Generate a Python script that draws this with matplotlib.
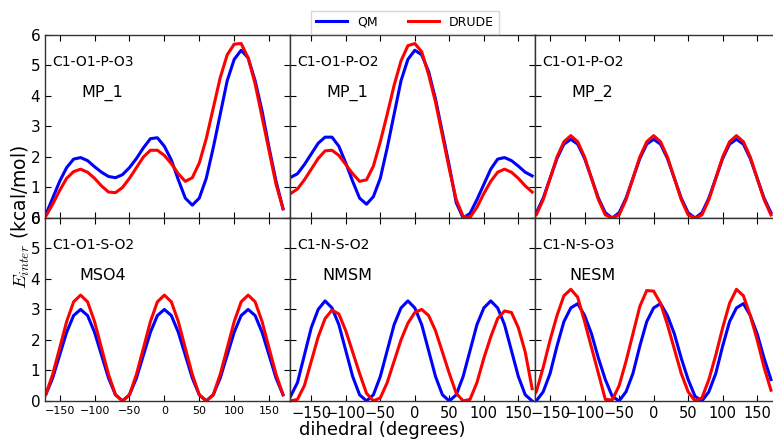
import matplotlib
matplotlib.use("Agg")
from matplotlib import pyplot as plt

plt.rcParams['mathtext.fontset'] = 'cm'

# dihedral angles (deg), 10 degree steps
angles = list(range(-180, 180, 10))

# C1-O1-P-O3, MP_1
qm_mp1_o3 = [0.0, 0.1, 0.65, 1.2, 1.65, 1.93, 1.98, 1.88, 1.68, 1.5, 1.36, 1.32,
             1.42, 1.65, 1.95, 2.3, 2.6, 2.63, 2.35, 1.9, 1.25, 0.65, 0.42, 0.65,
             1.3, 2.3, 3.4, 4.5, 5.2, 5.5, 5.25, 4.5, 3.5, 2.3, 1.2, 0.3]
drude_mp1_o3 = [0.0, 0.05, 0.45, 0.9, 1.3, 1.52, 1.6, 1.5, 1.3, 1.05, 0.85, 0.83,
                1.0, 1.3, 1.65, 2.0, 2.22, 2.22, 2.05, 1.78, 1.45, 1.2, 1.32, 1.8,
                2.6, 3.6, 4.6, 5.35, 5.7, 5.72, 5.25, 4.4, 3.3, 2.2, 1.1, 0.3]

# C1-O1-P-O2, MP_1
qm_mp1_o2 = [1.33, 1.45, 1.75, 2.1, 2.45, 2.65, 2.65, 2.35, 1.8, 1.2, 0.65, 0.45,
             0.7, 1.3, 2.3, 3.4, 4.5, 5.2, 5.5, 5.35, 4.8, 3.9, 2.8, 1.7,
             0.5, 0.0, 0.15, 0.6, 1.1, 1.6, 1.93, 1.98, 1.88, 1.7, 1.5, 1.38]
drude_mp1_o2 = [0.8, 0.95, 1.25, 1.6, 1.95, 2.2, 2.22, 2.05, 1.75, 1.45, 1.2, 1.25,
                1.7, 2.5, 3.4, 4.35, 5.15, 5.65, 5.72, 5.45, 4.7, 3.8, 2.7, 1.6,
                0.6, 0.05, 0.02, 0.35, 0.8, 1.2, 1.5, 1.6, 1.5, 1.3, 1.05, 0.85]

# C1-O1-P-O2, MP_2
qm_mp2 = [0.0, 0.17, 0.65, 1.3, 1.95, 2.42, 2.58, 2.42, 1.95, 1.3, 0.65, 0.17,
          0.0, 0.17, 0.65, 1.3, 1.95, 2.42, 2.58, 2.42, 1.95, 1.3, 0.65, 0.17,
          0.0, 0.17, 0.65, 1.3, 1.95, 2.42, 2.58, 2.42, 1.95, 1.3, 0.65, 0.17]
drude_mp2 = [0.0, 0.1, 0.6, 1.3, 2.0, 2.5, 2.7, 2.5, 2.0, 1.3, 0.6, 0.1,
             0.0, 0.1, 0.6, 1.3, 2.0, 2.5, 2.7, 2.5, 2.0, 1.3, 0.6, 0.1,
             0.0, 0.1, 0.6, 1.3, 2.0, 2.5, 2.7, 2.5, 2.0, 1.3, 0.6, 0.1]

# C1-O1-S-O2, MSO4
qm_mso4 = [0.0, 0.2, 0.75, 1.5, 2.25, 2.8, 3.0, 2.8, 2.25, 1.5, 0.75, 0.2,
           0.0, 0.2, 0.75, 1.5, 2.25, 2.8, 3.0, 2.8, 2.25, 1.5, 0.75, 0.2,
           0.0, 0.2, 0.75, 1.5, 2.25, 2.8, 3.0, 2.8, 2.25, 1.5, 0.75, 0.2]
drude_mso4 = [0.0, 0.2, 0.87, 1.73, 2.6, 3.25, 3.47, 3.25, 2.6, 1.73, 0.87, 0.2,
              0.0, 0.2, 0.87, 1.73, 2.6, 3.25, 3.47, 3.25, 2.6, 1.73, 0.87, 0.2,
              0.0, 0.2, 0.87, 1.73, 2.6, 3.25, 3.47, 3.25, 2.6, 1.73, 0.87, 0.2]

# C1-N-S-O2, NMSM
qm_nmsm = [0.15, 0.6, 1.5, 2.4, 3.0, 3.28, 3.05, 2.5, 1.65, 0.8, 0.2, 0.0,
           0.2, 0.8, 1.65, 2.5, 3.05, 3.28, 3.05, 2.5, 1.65, 0.8, 0.2, 0.0,
           0.2, 0.8, 1.65, 2.5, 3.05, 3.28, 3.05, 2.5, 1.65, 0.8, 0.2, 0.0]
drude_nmsm = [0.0, 0.05, 0.5, 1.3, 2.1, 2.7, 2.98, 2.85, 2.3, 1.6, 0.9, 0.25,
              0.0, 0.1, 0.6, 1.3, 2.0, 2.55, 2.9, 3.0, 2.8, 2.3, 1.6, 0.9,
              0.25, 0.0, 0.05, 0.6, 1.4, 2.1, 2.7, 2.95, 2.9, 2.4, 1.6, 0.4]

# C1-N-S-O3, NESM
qm_nesm = [0.2, 0.0, 0.3, 0.9, 1.8, 2.6, 3.05, 3.19, 2.8, 2.2, 1.4, 0.7,
           0.15, 0.0, 0.3, 0.9, 1.8, 2.6, 3.05, 3.19, 2.8, 2.2, 1.4, 0.7,
           0.15, 0.0, 0.3, 0.9, 1.8, 2.6, 3.05, 3.19, 2.8, 2.2, 1.4, 0.7]
drude_nesm = [0.0, 0.3, 1.1, 2.0, 2.8, 3.45, 3.66, 3.4, 2.6, 1.75, 0.9, 0.05,
              0.03, 0.5, 1.3, 2.2, 3.1, 3.62, 3.6, 3.2, 2.5, 1.7, 0.9, 0.3,
              0.0, 0.1, 0.7, 1.5, 2.4, 3.2, 3.66, 3.45, 2.8, 2.0, 1.1, 0.35]

panels = [
    ("C1-O1-P-O3", "MP_1", qm_mp1_o3, drude_mp1_o3),
    ("C1-O1-P-O2", "MP_1", qm_mp1_o2, drude_mp1_o2),
    ("C1-O1-P-O2", "MP_2", qm_mp2, drude_mp2),
    ("C1-O1-S-O2", "MSO4", qm_mso4, drude_mso4),
    ("C1-N-S-O2", "NMSM", qm_nmsm, drude_nmsm),
    ("C1-N-S-O3", "NESM", qm_nesm, drude_nesm),
]

fig = plt.figure(figsize=(7.73, 4.43), dpi=100)

lefts = [0.0582, 0.375, 0.692]
bottoms = [0.508, 0.095]
w, h = 0.317, 0.413
xlims = [(-171, 180), (-181, 174), (-172, 183)]

axes = []
for i, (dihed, mol, qm, drude) in enumerate(panels):
    r, c = divmod(i, 3)
    ax = fig.add_axes([lefts[c], bottoms[r], w, h])
    axes.append(ax)
    ax.plot(angles, qm, color='b', lw=2.2, label='QM')
    ax.plot(angles, drude, color='r', lw=2.2, label='DRUDE')
    ax.set_xlim(*xlims[c])
    ax.set_ylim(0, 6)
    ax.set_xticks([-150, -100, -50, 0, 50, 100, 150])
    ax.set_yticks([0, 1, 2, 3, 4, 5, 6])
    ax.tick_params(direction='in', top=True, right=True, length=4, width=0.8)
    for s in ax.spines.values():
        s.set_linewidth(1.0)
        s.set_color('#333333')
    if c == 0:
        ax.tick_params(axis='y', labelsize=11)
    else:
        ax.set_yticklabels([])
    if r == 1:
        ax.tick_params(axis='x', labelsize=8 if c == 0 else 10.5)
    else:
        ax.set_xticklabels([])
    ax.text(0.03, 0.85, dihed, transform=ax.transAxes, fontsize=10,
            va='center', ha='left')
    ax.text(0.235, 0.685, mol, transform=ax.transAxes, fontsize=11.5,
            va='center', ha='center')

axes[1].legend(loc='lower center', bbox_to_anchor=(0.47, 1.0), ncol=2,
               fontsize=9, handlelength=2.5, columnspacing=2.4,
               borderaxespad=0.1, frameon=True, fancybox=False)

fig.text(0.027, 0.51, r"$E_{inter}$ (kcal/mol)", rotation=90,
         fontsize=13.5, va='center', ha='center')
fig.text(0.495, 0.03, "dihedral (degrees)", fontsize=13,
         va='center', ha='center')

fig.savefig("out.png", dpi=100)
